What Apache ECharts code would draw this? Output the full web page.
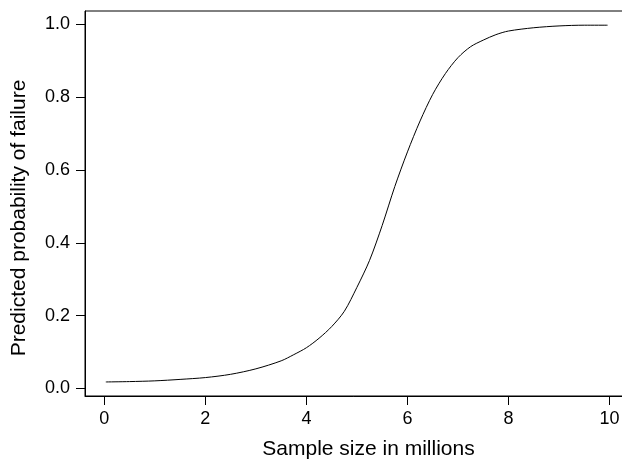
<!DOCTYPE html>
<html>
<head>
<meta charset="utf-8">
<script src="https://cdn.jsdelivr.net/npm/echarts@6/dist/echarts.min.js"></script>
<style>
  html, body { margin: 0; padding: 0; background: #fff; }
  #chart { width: 622px; height: 460px; }
</style>
</head>
<body>
<div id="chart"></div>
<script>
// sample size (millions) and predicted probability
var sampleSize = [0.03, 0.5, 1.0, 1.5, 2.0, 2.5, 3.0, 3.5, 3.75, 4.0, 4.25, 4.5, 4.75,
  5.0, 5.25, 5.5, 5.75, 6.0, 6.25, 6.5, 6.75, 7.0, 7.25, 7.5, 7.75, 8.0, 8.5, 9.0, 9.5, 9.96]
var probFailure = [0.018, 0.019, 0.021, 0.025, 0.030, 0.039, 0.054, 0.076, 0.093, 0.112, 0.138, 0.170, 0.212,
  0.278, 0.352, 0.448, 0.555, 0.650, 0.735, 0.808, 0.865, 0.909, 0.939, 0.957, 0.972, 0.982, 0.991, 0.996, 0.998, 0.998]
var xTicks = [0, 2, 4, 6, 8, 10]
var yTicks = [0, 0.2, 0.4, 0.6, 0.8, 1.0]

var font = 'Liberation Sans, Arial, Helvetica, sans-serif'
var chart = echarts.init(document.getElementById('chart'))

chart.setOption({
  animation: false,
  grid: {
    left: 85,
    right: -30,
    top: 11,
    bottom: 64,
    containLabel: false,
    outerBoundsMode: 'none',
    show: true,
    borderColor: '#000',
    borderWidth: 1
  },
  xAxis: {
    type: 'value',
    min: -0.382,
    max: 10.84,
    name: 'Sample size in millions',
    nameLocation: 'middle',
    nameGap: 43,
    nameTextStyle: { color: '#000', fontSize: 21, fontFamily: font },
    axisLine: { show: true, onZero: false, lineStyle: { color: '#000', width: 1 } },
    splitLine: { show: false },
    axisTick: { show: true, length: 9, customValues: xTicks, lineStyle: { color: '#000' } },
    axisLabel: {
      customValues: xTicks,
      color: '#000', fontSize: 18, fontFamily: font, margin: 14,
      formatter: function (v) { return String(v) }
    }
  },
  yAxis: {
    type: 'value',
    min: -0.0206,
    max: 1.037,
    name: 'Predicted probability of failure',
    nameLocation: 'middle',
    nameGap: 55,
    nameTextStyle: { color: '#000', fontSize: 21, fontFamily: font, padding: [0, 29, 0, 0] },
    axisLine: { show: true, onZero: false, lineStyle: { color: '#000', width: 1 } },
    splitLine: { show: false },
    axisTick: { show: true, length: 9, customValues: yTicks, lineStyle: { color: '#000' } },
    axisLabel: {
      customValues: yTicks,
      color: '#000', fontSize: 18, fontFamily: font, margin: 15,
      formatter: function (v) { return v.toFixed(1) }
    }
  },
  series: [
    {
      type: 'line',
      smooth: 0.3,
      showSymbol: false,
      lineStyle: { color: '#000', width: 1 },
      data: sampleSize.map(function (x, i) { return [x, probFailure[i]] })
    }
  ]
})
</script>
</body>
</html>
